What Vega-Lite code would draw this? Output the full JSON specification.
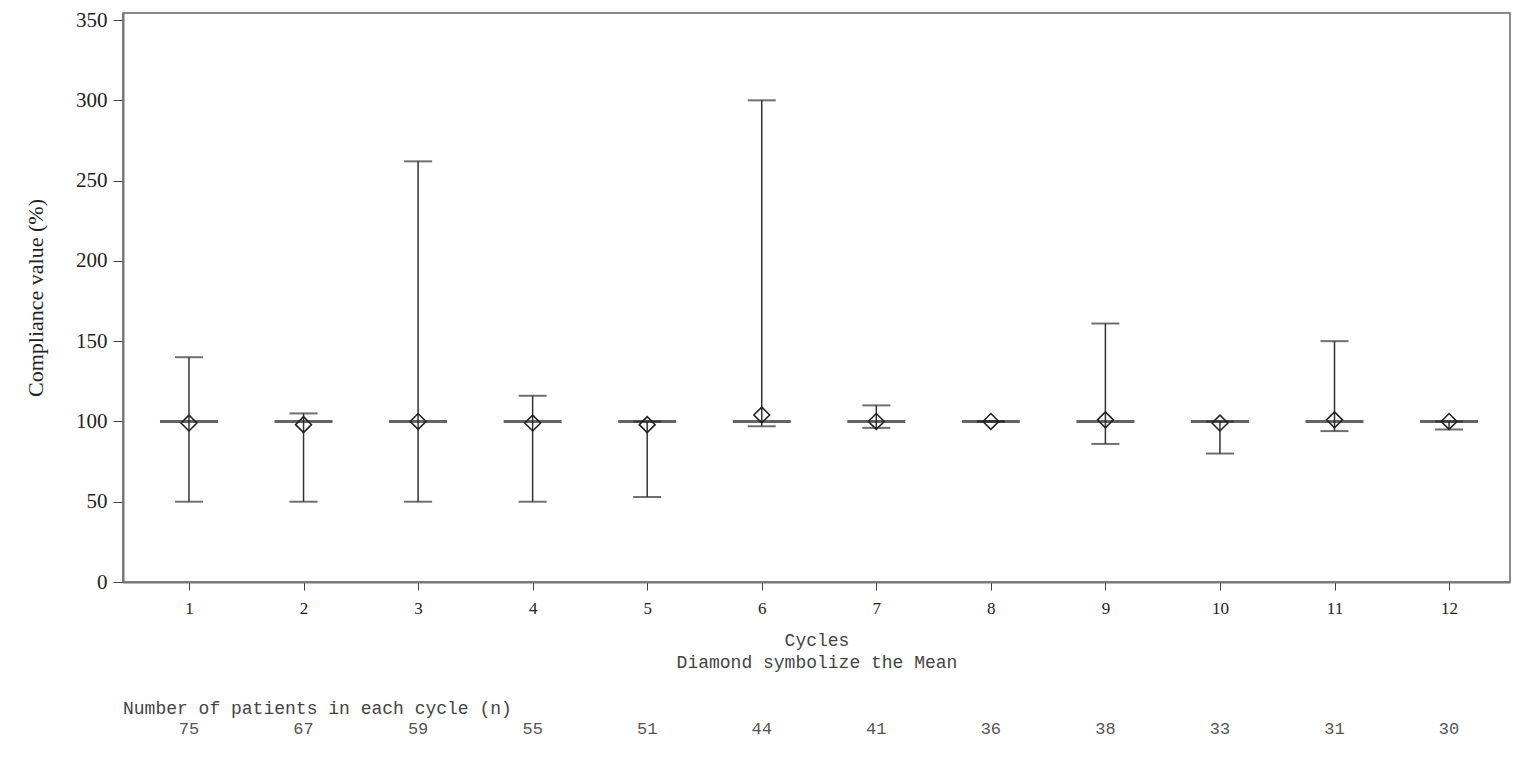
{
  "$schema": "https://vega.github.io/schema/vega-lite/v6.json",
  "padding": {"left": 23, "top": 8, "right": 12, "bottom": 5},
  "background": "white",
  "config": {"font": "Liberation Serif"},
  "datasets": {
    "cycles": [
      {"cycle": 1, "min": 50, "median": 100, "max": 140, "mean": 99, "n": 75},
      {"cycle": 2, "min": 50, "median": 100, "max": 105, "mean": 98, "n": 67},
      {"cycle": 3, "min": 50, "median": 100, "max": 262, "mean": 100, "n": 59},
      {"cycle": 4, "min": 50, "median": 100, "max": 116, "mean": 99, "n": 55},
      {"cycle": 5, "min": 53, "median": 100, "max": 100, "mean": 98, "n": 51},
      {"cycle": 6, "min": 97, "median": 100, "max": 300, "mean": 104, "n": 44},
      {"cycle": 7, "min": 96, "median": 100, "max": 110, "mean": 100, "n": 41},
      {"cycle": 8, "min": 100, "median": 100, "max": 100, "mean": 100, "n": 36},
      {"cycle": 9, "min": 86, "median": 100, "max": 161, "mean": 101, "n": 38},
      {"cycle": 10, "min": 80, "median": 100, "max": 100, "mean": 99, "n": 33},
      {"cycle": 11, "min": 94, "median": 100, "max": 150, "mean": 101, "n": 31},
      {"cycle": 12, "min": 95, "median": 100, "max": 100, "mean": 100, "n": 30}
    ]
  },
  "spacing": 28,
  "vconcat": [
    {
      "width": 1387,
      "height": 569,
      "view": {"stroke": "#666", "strokeWidth": 1.5},
      "data": {"name": "cycles"},
      "encoding": {
        "x": {
          "field": "cycle",
          "type": "quantitative",
          "scale": {"domain": [0.424, 12.532], "nice": false, "zero": false},
          "axis": {
            "values": [1, 2, 3, 4, 5, 6, 7, 8, 9, 10, 11, 12],
            "format": "d",
            "grid": false,
            "domainColor": "#777",
            "domainWidth": 2,
            "tickColor": "#444",
            "tickSize": 8,
            "labelFont": "Liberation Serif",
            "labelFontSize": 17,
            "labelColor": "#222",
            "labelPadding": 10,
            "title": ["Cycles", "Diamond symbolize the Mean"],
            "titleFont": "Liberation Mono",
            "titleFontSize": 18,
            "titleFontWeight": "normal",
            "titleColor": "#444",
            "titleLineHeight": 22,
            "titlePadding": 15
          }
        }
      },
      "layer": [
        {
          "mark": {"type": "rule", "color": "#333", "strokeWidth": 1.5},
          "encoding": {
            "y": {
              "field": "min",
              "type": "quantitative",
              "scale": {"domain": [0, 354.4], "nice": false},
              "axis": {
                "values": [0, 50, 100, 150, 200, 250, 300, 350],
                "grid": false,
                "domainColor": "#777",
                "domainWidth": 2,
                "tickColor": "#444",
                "tickSize": 10,
                "labelFont": "Liberation Serif",
                "labelFontSize": 21,
                "labelColor": "#222",
                "labelPadding": 6,
                "title": "Compliance value (%)",
                "titleFont": "Liberation Serif",
                "titleFontSize": 22,
                "titleFontWeight": "normal",
                "titleColor": "#222",
                "titlePadding": 28
              }
            },
            "y2": {"field": "max"}
          }
        },
        {
          "mark": {"type": "tick", "orient": "horizontal", "color": "#333", "size": 28, "thickness": 2},
          "encoding": {"y": {"field": "max", "type": "quantitative"}}
        },
        {
          "mark": {"type": "tick", "orient": "horizontal", "color": "#333", "size": 28, "thickness": 2},
          "encoding": {"y": {"field": "min", "type": "quantitative"}}
        },
        {
          "mark": {"type": "tick", "orient": "horizontal", "color": "#222", "size": 58, "thickness": 3},
          "encoding": {"y": {"field": "median", "type": "quantitative"}}
        },
        {
          "mark": {"type": "point", "shape": "diamond", "filled": false, "size": 250, "color": "#222", "strokeWidth": 1.6, "opacity": 1},
          "encoding": {"y": {"field": "mean", "type": "quantitative"}}
        }
      ]
    },
    {
      "width": 1387,
      "height": 22,
      "view": {"stroke": null},
      "data": {"name": "cycles"},
      "title": {
        "text": "Number of patients in each cycle (n)",
        "anchor": "start",
        "font": "Liberation Mono",
        "fontSize": 18,
        "fontWeight": "normal",
        "color": "#444",
        "offset": 0
      },
      "mark": {"type": "text", "font": "Liberation Mono", "fontSize": 17, "color": "#555"},
      "encoding": {
        "x": {
          "field": "cycle",
          "type": "quantitative",
          "scale": {"domain": [0.424, 12.532], "nice": false, "zero": false},
          "axis": null
        },
        "text": {"field": "n", "type": "nominal"}
      }
    }
  ]
}
